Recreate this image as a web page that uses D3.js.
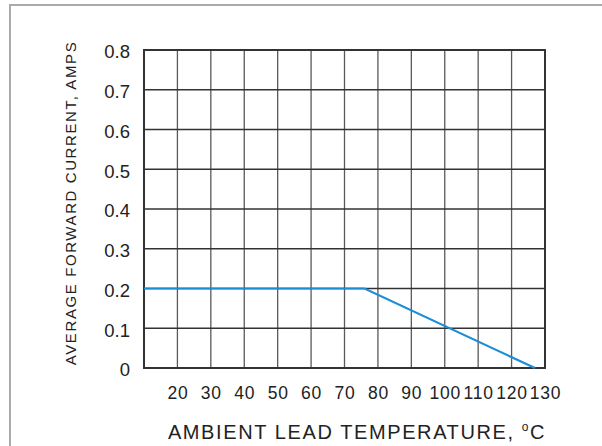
<!DOCTYPE html>
<html>
<head>
<meta charset="utf-8">
<script src="https://cdn.jsdelivr.net/npm/d3@7"></script>
<style>
  html, body { margin: 0; padding: 0; background: #fff; }
  svg { display: block; }
  text { font-family: "Liberation Sans", Arial, sans-serif; fill: #222; }
</style>
</head>
<body>
<svg id="chart" width="602" height="446"></svg>
<script>
// ---- data ----
const xTicks = [20, 30, 40, 50, 60, 70, 80, 90, 100, 110, 120, 130];
const yTicks = [0, 0.1, 0.2, 0.3, 0.4, 0.5, 0.6, 0.7, 0.8];
const tempC = [10, 76, 127];
const currentA = [0.2, 0.2, 0];
const xTitle = "AMBIENT LEAD TEMPERATURE, ";
const yTitle = "AVERAGE FORWARD CURRENT, AMPS";

const svg = d3.select("#chart");
const L = 144, R = 545, T = 50, B = 368;

const x = d3.scaleLinear().domain([10, 130]).range([L, R]);
const y = d3.scaleLinear().domain([0, 0.8]).range([B, T]);

// outer frame (top and left visible)
svg.append("path")
  .attr("d", `M10,602 L10,5 L602,5`)
  .attr("fill", "none").attr("stroke", "#aaa").attr("stroke-width", 2);

// vertical grid
svg.append("g").selectAll("line").data(xTicks.filter(d => d < 130)).join("line")
  .attr("x1", d => x(d)).attr("x2", d => x(d))
  .attr("y1", T).attr("y2", B)
  .attr("stroke", "#5a5a5a").attr("stroke-width", 1.3);

// horizontal grid
svg.append("g").selectAll("line").data(yTicks.filter(d => d > 0 && d < 0.8)).join("line")
  .attr("x1", L).attr("x2", R)
  .attr("y1", d => y(d)).attr("y2", d => y(d))
  .attr("stroke", "#333").attr("stroke-width", 1.3);

// border
svg.append("rect")
  .attr("x", L).attr("y", T).attr("width", R - L).attr("height", B - T)
  .attr("fill", "none").attr("stroke", "#333").attr("stroke-width", 2);

// x tick labels
const xAxis = d3.axisBottom(x).tickValues(xTicks).tickSize(0).tickPadding(0).tickFormat(d3.format("d"));
const gx = svg.append("g").attr("transform", `translate(0,${B})`).call(xAxis);
gx.select(".domain").remove();
gx.selectAll("text")
  .attr("y", 31).attr("dy", 0)
  .style("font-family", '"Liberation Sans", Arial, sans-serif')
  .style("font-size", "17.5px").style("letter-spacing", "0.8px").attr("fill", "#222");

// y tick labels
const yAxis = d3.axisLeft(y).tickValues(yTicks).tickSize(0).tickPadding(0)
  .tickFormat(d => d === 0 ? "0" : d3.format(".1f")(d));
const gy = svg.append("g").attr("transform", `translate(130,0)`).call(yAxis);
gy.select(".domain").remove();
gy.selectAll("text")
  .attr("x", 0).attr("dy", "0.42em")
  .style("font-family", '"Liberation Sans", Arial, sans-serif')
  .style("font-size", "18.5px").attr("fill", "#222");

// curve
const line = d3.line().x(d => x(d[0])).y(d => y(d[1]));
svg.append("path")
  .datum(tempC.map((t, i) => [t, currentA[i]]))
  .attr("d", line)
  .attr("fill", "none").attr("stroke", "#1a8ed6").attr("stroke-width", 2.2);

// x title
const xt = svg.append("text")
  .attr("x", 357).attr("y", 439)
  .attr("text-anchor", "middle")
  .style("font-size", "20px").style("letter-spacing", "1.6px");
xt.append("tspan").text(xTitle);
xt.append("tspan").text("o").attr("dy", -8).style("font-size", "12px");
xt.append("tspan").text("C").attr("dy", 8);

// y title
svg.append("text")
  .attr("transform", `translate(76,${(T + B) / 2 - 6}) rotate(-90)`)
  .attr("text-anchor", "middle")
  .style("font-size", "15px").style("letter-spacing", "1.6px")
  .text(yTitle);
</script>
</body>
</html>
